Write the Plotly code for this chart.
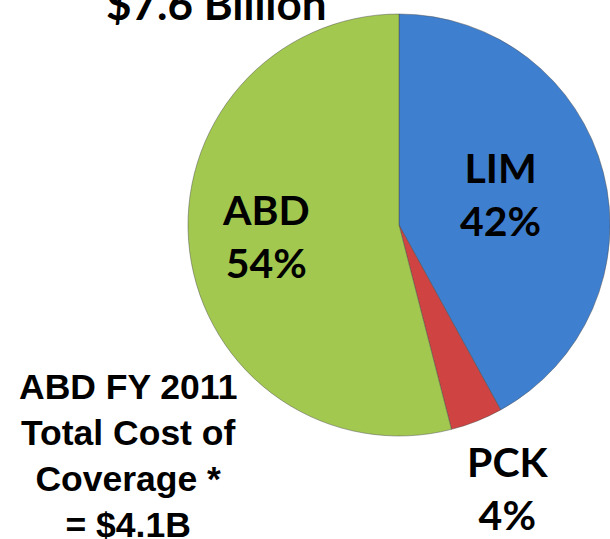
import plotly.graph_objects as go

categories = ["LIM", "PCK", "ABD"]
shares = [42, 4, 54]
colors = ["#3f7fcf", "#cf4442", "#a2c850"]
title_text = "$7.6 Billion"
note_lines = ["ABD FY 2011", "Total Cost of", "Coverage *", "= $4.1B"]

W, H = 610, 539

fig = go.Figure(go.Pie(
    labels=categories,
    values=shares,
    sort=False,
    direction="clockwise",
    rotation=0,
    marker=dict(colors=colors, line=dict(color="rgba(70,70,70,0.45)", width=1)),
    textinfo="none",
    hoverinfo="label+percent",
    showlegend=False,
    domain=dict(x=[188 / W, 1.0], y=[1 - 436 / H, 1 - 14 / H]),
))

def px(x, y):
    return x / W, 1 - y / H

label_font = dict(family="Lato", size=41, color="black")
anns = []
for cat, val, (lx, ly) in zip(categories, shares, [(500, 194), (508, 488), (266, 236)]):
    x, y = px(lx, ly)
    anns.append(dict(x=x, y=y, xref="paper", yref="paper", showarrow=False,
                     text=f"<b>{cat}<br>{val}%</b>", font=label_font,
                     xanchor="center", yanchor="middle"))

tx, ty = px(216, 3)
anns.append(dict(x=tx, y=ty, xref="paper", yref="paper", showarrow=False,
                 text=f"<b>{title_text}</b>", font=dict(family="Lato", size=44, color="black"),
                 xanchor="center", yanchor="middle"))

nx, ny = px(128, 456)
anns.append(dict(x=nx, y=ny, xref="paper", yref="paper", showarrow=False,
                 text="<b>" + "<br>".join(note_lines) + "</b>",
                 font=dict(family="Liberation Sans", size=35.5, color="black"),
                 xanchor="center", yanchor="middle"))

fig.update_layout(
    width=W, height=H,
    margin=dict(l=0, r=0, t=0, b=0),
    paper_bgcolor="white",
    plot_bgcolor="white",
    annotations=anns,
)

fig.write_html("out.html", config={"displayModeBar": False},
               post_script="document.body.style.margin='0';")
